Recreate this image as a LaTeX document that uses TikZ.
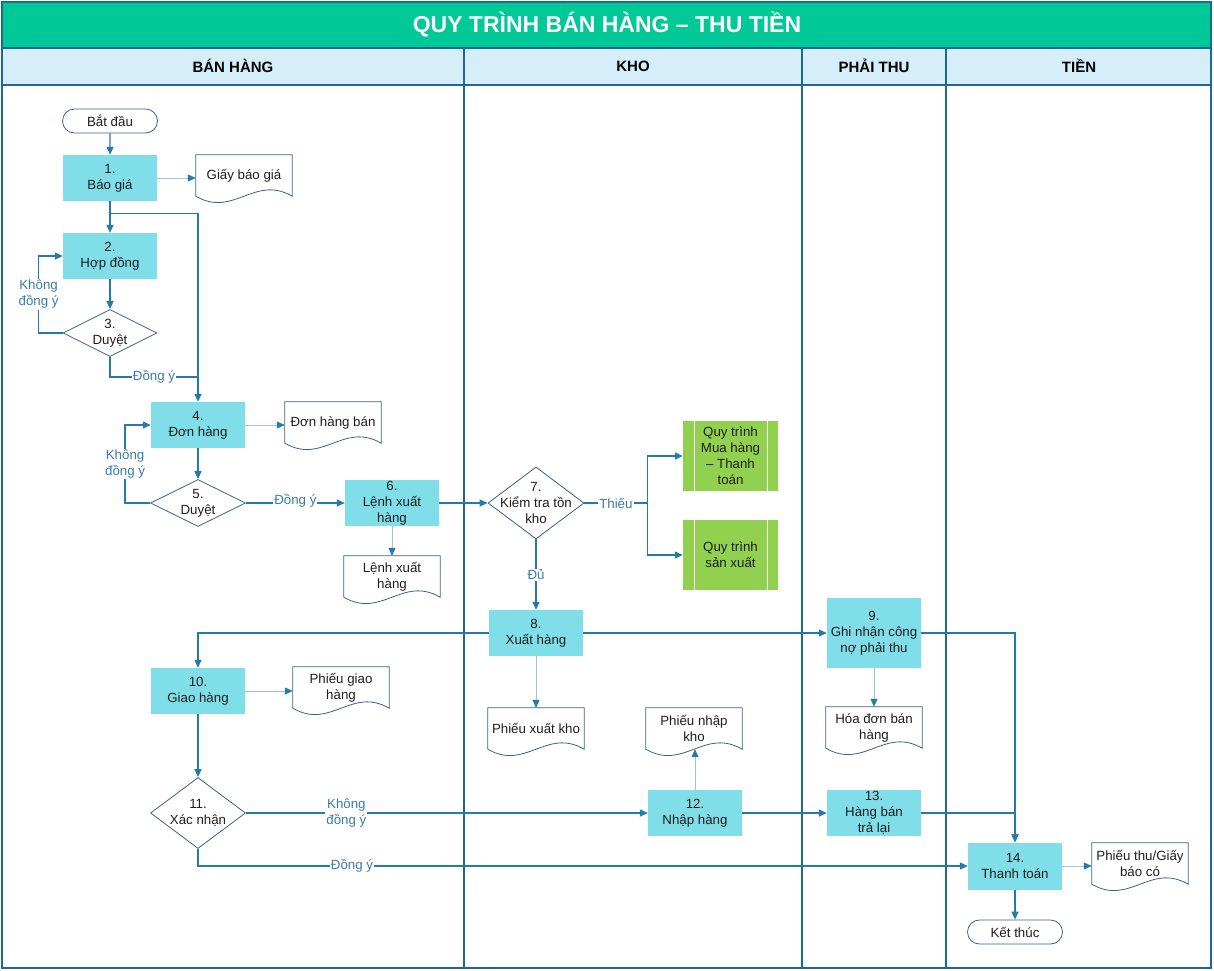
\documentclass[tikz,border=0pt]{standalone}
\usepackage{fontspec}
\setmainfont{Liberation Sans}
\usetikzlibrary{arrows.meta,shapes.geometric,shapes.misc,calc}
\definecolor{titlegreen}{RGB}{0,200,150}
\definecolor{headblue}{RGB}{213,238,249}
\definecolor{laneline}{RGB}{31,104,145}
\definecolor{flowline}{RGB}{38,122,170}
\definecolor{procfill}{RGB}{128,222,232}
\definecolor{predfill}{RGB}{146,208,80}
\definecolor{shapeline}{RGB}{60,100,125}
\definecolor{lbltext}{RGB}{58,124,168}
\definecolor{doclink}{RGB}{160,196,216}
\definecolor{bodytext}{RGB}{30,30,30}
\newcommand\docshape[1]{\draw[shapeline, line width=0.8pt] (#1.south west) -- (#1.north west) -- (#1.north east) -- (#1.south east) .. controls ($(#1.south east)+(-38,-22)$) and ($(#1.south west)+(38,22)$) .. (#1.south west) -- cycle;}
\begin{document}
\begin{tikzpicture}[x=1pt,y=-1pt,
  every node/.style={font=\fontsize{13.3}{16}\selectfont, text=bodytext},
  proc/.style={rectangle, fill=procfill, minimum width=94pt, minimum height=46pt, inner sep=0pt, align=center},
  pred/.style={rectangle, fill=predfill, minimum width=95pt, minimum height=70pt, inner sep=0pt, align=center,
    path picture={\draw[white,line width=0.8pt] ([xshift=11pt]path picture bounding box.north west) -- ([xshift=11pt]path picture bounding box.south west) ([xshift=-11pt]path picture bounding box.north east) -- ([xshift=-11pt]path picture bounding box.south east);}},
  dec/.style={diamond, draw=shapeline, line width=0.8pt, fill=white, inner sep=0pt, minimum width=95pt, minimum height=47pt},
  dectxt/.style={align=center, inner sep=0pt},
  term/.style={rounded rectangle, draw=shapeline, line width=0.8pt, minimum width=95pt, minimum height=24pt, inner sep=0pt},
  doc/.style={rectangle, minimum width=96pt, minimum height=41pt, inner sep=0pt, align=center},
  flow/.style={draw=flowline, line width=1.3pt, -{Triangle[length=8pt,width=7pt]}},
  plain/.style={draw=flowline, line width=1.3pt},
  docflow/.style={draw=doclink, line width=0.7pt, -{Triangle[length=8pt,width=7pt,color=flowline]}},
  lbl/.style={fill=white, text=lbltext, inner sep=1pt, align=center},
  headtxt/.style={font=\fontsize{15}{18}\bfseries\selectfont, text=black}
]
\useasboundingbox (0,0) rectangle (1214,970);
% frame
\fill[titlegreen] (2,2) rectangle (1211,48);
\fill[headblue] (2,48) rectangle (1211,85);
\fill[white] (2,85) rectangle (1211,968);
\draw[laneline, line width=1.3pt] (2,2) rectangle (1211,968);
\draw[laneline, line width=1.3pt] (2,48) -- (1211,48) (2,85) -- (1211,85);
\draw[laneline, line width=1.3pt] (464,48) -- (464,968) (802,48) -- (802,968) (946,48) -- (946,968);
\node[font=\fontsize{23}{28}\bfseries\selectfont, text=white] (title) at (607,24) {QUY TRÌNH BÁN HÀNG – THU TIỀN};
\node[headtxt] (h1) at (233,66) {BÁN HÀNG};
\node[headtxt] (h2) at (633,66) {KHO};
\node[headtxt] (h3) at (874,66) {PHẢI THU};
\node[headtxt] (h4) at (1079,66) {TIỀN};
% nodes
\node[term] (start) at (110,121) {Bắt đầu};
\node[proc] (n1) at (110,178) {1.\\Báo giá};
\node[proc] (n2) at (110,256) {2.\\Hợp đồng};
\node[dec, minimum width=94pt, label={[dectxt]center:{3.\\Duyệt}}] (n3) at (110,333) {};
\node[proc] (n4) at (198,425) {4.\\Đơn hàng};
\node[dec, label={[dectxt]center:{5.\\Duyệt}}] (n5) at (198,503) {};
\node[proc] (n6) at (392,503) {6.\\Lệnh xuất\\hàng};
\node[dec, minimum width=96pt, minimum height=72pt, label={[dectxt]center:{7.\\Kiểm tra tồn\\kho}}] (n7) at (536,503) {};
\node[pred] (g1) at (730.5,456) {Quy trình\\Mua hàng\\– Thanh\\toán};
\node[pred] (g2) at (730.5,555) {Quy trình\\sản xuất};
\node[proc] (n8) at (536,633) {8.\\Xuất hàng};
\node[proc, minimum height=70pt] (n9) at (874,633) {9.\\Ghi nhận công\\nợ phải thu};
\node[proc] (n10) at (198,691) {10.\\Giao hàng};
\node[dec, minimum height=71pt, label={[dectxt]center:{11.\\Xác nhận}}] (n11) at (198,813) {};
\node[proc] (n12) at (695,813) {12.\\Nhập hàng};
\node[proc] (n13) at (874,813) {13.\\Hàng bán\\trả lại};
\node[proc, minimum height=47pt] (n14) at (1015,866) {14.\\Thanh toán};
\node[term] (end) at (1015,932) {Kết thúc};
% documents
\node[doc] (dGiay) at (244,175.5) {Giấy báo giá};
\node[doc] (dDon) at (333,422.5) {Đơn hàng bán};
\node[doc] (dLenh) at (392,576.5) {Lệnh xuất\\hàng};
\node[doc] (dPXK) at (536,728.5) {Phiếu xuất kho};
\node[doc] (dPNK) at (694,728.5) {Phiếu nhập\\kho};
\node[doc] (dHD) at (874,727.5) {Hóa đơn bán\\hàng};
\node[doc] (dPGH) at (341,687.5) {Phiếu giao\\hàng};
\node[doc] (dPT) at (1140,863.5) {Phiếu thu/Giấy\\báo có};
\docshape{dGiay}\docshape{dDon}\docshape{dLenh}\docshape{dPXK}
\docshape{dPNK}\docshape{dHD}\docshape{dPGH}\docshape{dPT}
% connectors
\coordinate (j1) at ($(n1.south)+(0,12)$);
\coordinate (j2) at (198,377);
\draw[flow] (start) -- (n1);
\draw[docflow] (n1.east) -- (n1.east -| dGiay.west);
\draw[flow] (n1) -- (n2);
\draw[flow] (j1) -| (n4.north);
\draw[flow] (n2) -- (n3);
\draw[flow] (n3.west) -- ++(-24,0) |- node[lbl,pos=0.25]{Không\\đồng ý} (n2.west);
\draw[plain] (n3.south) |- node[lbl,pos=0.75]{Đồng ý} (j2);
\draw[docflow] (n4.east) -- (n4.east -| dDon.west);
\draw[flow] (n4) -- (n5);
\draw[flow] (n5.west) -- ++(-25,0) |- node[lbl,pos=0.25]{Không\\đồng ý} (n4.west);
\draw[flow] (n5) -- node[lbl,yshift=2pt]{Đồng ý} (n6);
\draw[docflow] (n6) -- (dLenh.north);
\draw[flow] (n6) -- (n7);
\draw[plain] (n7.east) -- node[lbl]{Thiếu} ++(63,0) coordinate (j3);
\draw[flow] (j3) |- (g1.west);
\draw[flow] (j3) |- (g2.west);
\draw[flow] (n7) -- node[lbl]{Đủ} (n8);
\draw[flow] (n8.west) -| (n10.north);
\draw[flow] (n8) -- (n9);
\draw[docflow] (n8) -- (dPXK.north);
\draw[docflow] (n9) -- (dHD.north);
\draw[flow] (n9.east) -| (n14.north);
\draw[docflow] (n10.east) -- (n10.east -| dPGH.west);
\draw[flow] (n10) -- (n11);
\draw[flow] (n11) -- node[lbl,pos=0.25]{Không\\đồng ý} (n12);
\draw[docflow] (n12.north) -- (n12.north |- dPNK.south);
\draw[flow] (n12) -- (n13);
\draw[flow] (n13.east) -| (n14.north);
\draw[flow] (n11.south) |- node[lbl,pos=0.6]{Đồng ý} (n14.west);
\draw[docflow] (n14.east) -- (n14.east -| dPT.west);
\draw[flow] (n14) -- (end);
\end{tikzpicture}
\end{document}
